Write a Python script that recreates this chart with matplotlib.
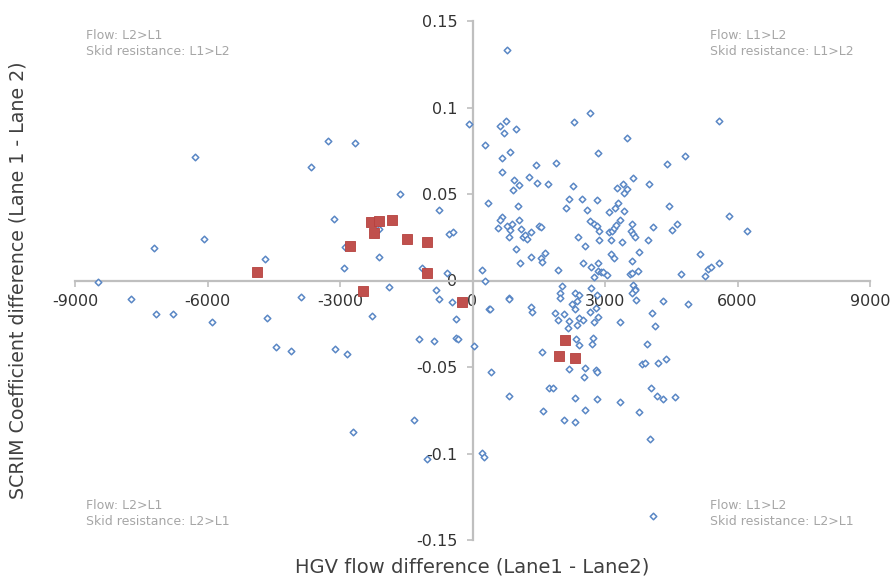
import matplotlib
matplotlib.use("Agg")
import matplotlib.pyplot as plt
import numpy as np

# ---- data ----
blue_x = [
    -6280, -7210, -6090, -8490, -4700, -3660, -3280, -2670, -3140, -2890,
    -2900, -2110, -2110, -1640, -750, -530, -450, -1150, -570, -90,
    -1900, -830, -7730, -7170, -6770, -5900, -4660, -4450, -4120, -3880,
    -3110, -2850, -2280, -2710, -1330, -1040, -760, -470, -380, -1210,
    -870, -380, -320, 30, 220, 270,
    770, 620, 760, 710, 980, 280, 850, 670, 670, 1440,
    1880, 2300, 2650, 3500, 2840, 4400, 4820, 5590, 940, 1060,
    920, 1290, 1450, 1720, 340, 1030, 660, 620, 1060, 580,
    790, 900, 850, 1090, 830, 1140, 1190, 1240, 1330, 990,
    1080, 1330, 1510, 1550, 1560, 1640, 1580, 220, 280, 1940,
    2030, 2120, 2180, 2280, 2480, 2590, 2820, 2390, 2540, 2670,
    2750, 2820, 2870, 2870, 2510, 2680, 2750, 2840, 2840, 2900,
    2960, 3050, 2680, 3080, 3230, 3290, 3420, 3080, 3160, 3200,
    3250, 3340, 3140, 3380, 3140, 3200, 3270, 3410, 3500, 3440,
    3630, 3990, 3620, 3580, 3640, 3680, 3760, 3970, 4090, 3620,
    3560, 3600, 3750, 3640, 3680, 3690, 4460, 4520, 4640, 4710,
    5140, 5270, 5340, 5390, 5590, 5810, 6220,
    830, 830, 370, 400, 1320, 1340, 1970, 1970, 2310, 2400,
    2360, 2250, 2320, 1870, 1940, 2080, 2190, 2170, 2400, 2510,
    2360, 2830, 2800, 2850, 2660, 2740, 2720, 2710, 2350, 2420,
    3340, 3600, 3700, 4060, 4140, 4310, 4890, 3940, 3830, 3910,
    4210, 4390, 1570, 2180, 2550, 2790, 2810, 2530, 1740, 1830,
    830, 2310, 2810, 3330, 4040, 4170, 4310, 4590, 1590, 2550,
    3780, 2080, 2310, 4030, 420, 4090,
]
blue_y = [
    0.0716, 0.0186, 0.0238, -0.0007, 0.0126, 0.0654, 0.0806, 0.0797, 0.0357, 0.0192,
    0.0070, 0.0296, 0.0134, 0.0500, 0.0409, 0.0267, 0.0280, 0.0074, 0.0045, 0.0906,
    -0.0039, -0.0053, -0.0109, -0.0196, -0.0196, -0.0238, -0.0215, -0.0386, -0.0408, -0.0097,
    -0.0396, -0.0423, -0.0203, -0.0876, -0.0805, -0.1032, -0.0109, -0.0126, -0.0223, -0.0338,
    -0.0348, -0.0334, -0.0338, -0.0378, -0.0995, -0.1019,
    0.1332, 0.0895, 0.0922, 0.0851, 0.0876, 0.0783, 0.0745, 0.0710, 0.0627, 0.0669,
    0.0681, 0.0914, 0.0968, 0.0825, 0.0735, 0.0675, 0.0720, 0.0922, 0.0579, 0.0550,
    0.0523, 0.0600, 0.0564, 0.0560, 0.0446, 0.0432, 0.0369, 0.0350, 0.0350, 0.0302,
    0.0315, 0.0325, 0.0292, 0.0296, 0.0253, 0.0253, 0.0261, 0.0242, 0.0282, 0.0180,
    0.0099, 0.0138, 0.0315, 0.0309, 0.0132, 0.0157, 0.0105, 0.0061, 0.0000, 0.0061,
    -0.0030, 0.0417, 0.0473, 0.0544, 0.0473, 0.0409, 0.0465, 0.0253, 0.0198, 0.0344,
    0.0327, 0.0315, 0.0286, 0.0232, 0.0099, 0.0080, 0.0018, 0.0099, 0.0057, 0.0051,
    0.0051, 0.0032, -0.0045, 0.0394, 0.0417, 0.0448, 0.0404, 0.0280, 0.0286, 0.0305,
    0.0319, 0.0350, 0.0234, 0.0223, 0.0153, 0.0128, 0.0536, 0.0560, 0.0529, 0.0504,
    0.0594, 0.0560, 0.0327, 0.0286, 0.0267, 0.0253, 0.0163, 0.0234, 0.0309, 0.0115,
    0.0036, 0.0042, 0.0055, -0.0026, -0.0049, -0.0055, 0.0431, 0.0292, 0.0327, 0.0038,
    0.0155, 0.0026, 0.0068, 0.0080, 0.0099, 0.0373, 0.0284,
    -0.0099, -0.0107, -0.0165, -0.0167, -0.0155, -0.0180, -0.0074, -0.0103, -0.0074, -0.0084,
    -0.0119, -0.0138, -0.0167, -0.0190, -0.0228, -0.0194, -0.0234, -0.0273, -0.0218, -0.0228,
    -0.0257, -0.0084, -0.0161, -0.0209, -0.0180, -0.0238, -0.0334, -0.0369, -0.0340, -0.0373,
    -0.0242, -0.0074, -0.0113, -0.0190, -0.0263, -0.0117, -0.0136, -0.0367, -0.0483, -0.0475,
    -0.0475, -0.0454, -0.0411, -0.0510, -0.0508, -0.0517, -0.0527, -0.0556, -0.0620, -0.0623,
    -0.0666, -0.0681, -0.0687, -0.0704, -0.0623, -0.0668, -0.0683, -0.0673, -0.0754, -0.0750,
    -0.0762, -0.0808, -0.0820, -0.0916, -0.0531, -0.1361,
]
red_x = [-4870, -2770, -2300, -2110, -2230, -1820, -1480, -1020, -1030, -2490, -230, 2090, 1960, 2310]
red_y = [0.0051, 0.0200, 0.0340, 0.0346, 0.0276, 0.0350, 0.0242, 0.0223, 0.0045, -0.0061, -0.0126, -0.0344, -0.0436, -0.0450]

x_ticks = [-9000, -6000, -3000, 0, 3000, 6000, 9000]
x_tick_labels = ["-9000", "-6000", "-3000", "0", "3000", "6000", "9000"]
y_ticks = [-0.15, -0.1, -0.05, 0, 0.05, 0.1, 0.15]
y_tick_labels = ["-0.15", "-0.1", "-0.05", "0", "0.05", "0.1", "0.15"]

x_label = "HGV flow difference (Lane1 - Lane2)"
y_label = "SCRIM Coefficient difference (Lane 1 - Lane 2)"
quadrant_notes = {
    "tl": "Flow: L2>L1\nSkid resistance: L1>L2",
    "tr": "Flow: L1>L2\nSkid resistance: L1>L2",
    "bl": "Flow: L2>L1\nSkid resistance: L2>L1",
    "br": "Flow: L1>L2\nSkid resistance: L2>L1",
}

# ---- figure ----
W, H = 891, 583
fig = plt.figure(figsize=(W / 100, H / 100), dpi=100)
ax = fig.add_axes([75 / W, (H - 540) / H, 795 / W, 519 / H])

axis_col = "#BFBFBF"
ax.set_xlim(-9000, 9000)
ax.set_ylim(-0.15, 0.15)

ax.scatter(blue_x, blue_y, marker="D", s=11, facecolors="white",
           edgecolors="#5A87C5", linewidths=1.1, zorder=3, clip_on=False)
ax.scatter(red_x, red_y, marker="s", s=52, facecolors="#C0504D",
           edgecolors="#B5413E", linewidths=0.6, zorder=4, clip_on=False)

for side in ["top", "right"]:
    ax.spines[side].set_visible(False)
ax.spines["left"].set_position(("data", 0))
ax.spines["bottom"].set_position(("data", 0))
for side in ["left", "bottom"]:
    ax.spines[side].set_color(axis_col)
    ax.spines[side].set_linewidth(1.6)
    ax.spines[side].set_zorder(2)

ax.set_xticks(x_ticks)
ax.set_xticklabels(x_tick_labels)
ax.set_yticks(y_ticks)
ax.set_yticklabels(y_tick_labels)
ax.tick_params(axis="both", direction="out", length=4, width=1.2,
               color=axis_col, labelsize=11.5, labelcolor="#333333")
ax.tick_params(axis="x", pad=6)
ax.tick_params(axis="y", pad=7)
ax.patch.set_alpha(0)

fig.text(18 / W, 1 - 280 / H, y_label, rotation=90, ha="center", va="center",
         fontsize=13.7, color="#404040")
fig.text(472 / W, 1 - 567 / H, x_label, ha="center", va="center",
         fontsize=14, color="#404040")

note_kw = dict(fontsize=9, color="#A6A6A6", linespacing=1.3)
fig.text(86 / W, 1 - 29 / H, quadrant_notes["tl"], ha="left", va="top", **note_kw)
fig.text(710 / W, 1 - 29 / H, quadrant_notes["tr"], ha="left", va="top", **note_kw)
fig.text(86 / W, 1 - 499 / H, quadrant_notes["bl"], ha="left", va="top", **note_kw)
fig.text(710 / W, 1 - 499 / H, quadrant_notes["br"], ha="left", va="top", **note_kw)

fig.savefig("out.png", dpi=100)
